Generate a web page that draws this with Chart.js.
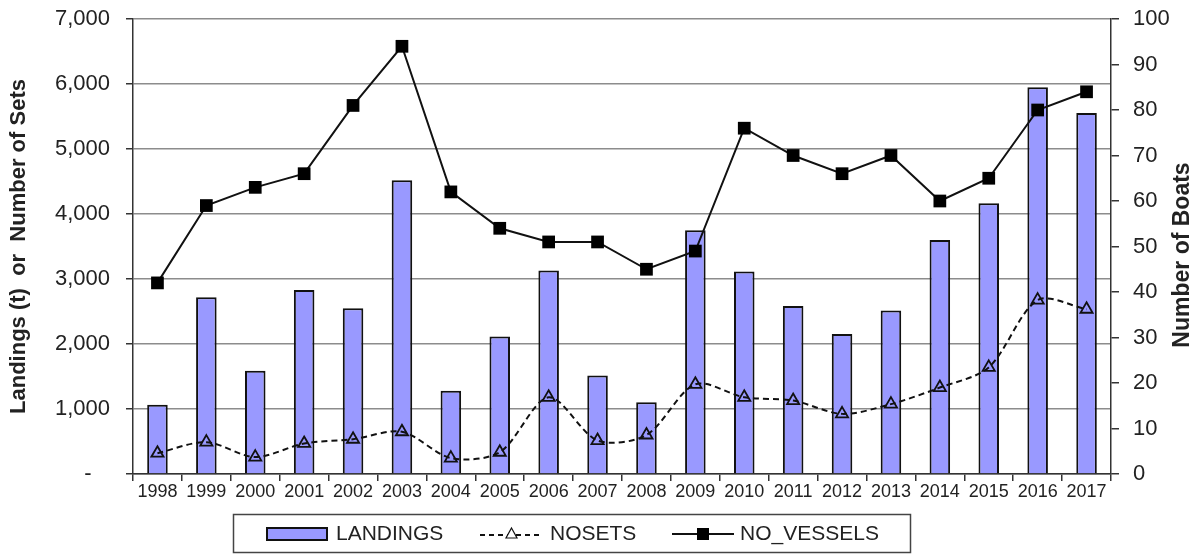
<!DOCTYPE html>
<html>
<head>
<meta charset="utf-8">
<script src="https://cdn.jsdelivr.net/npm/chart.js@4"></script>
<style>
  html, body { margin: 0; padding: 0; background: #fff; }
</style>
</head>
<body>
<canvas id="chart" width="1202" height="554"></canvas>
<script>
// data
var years = ['1998','1999','2000','2001','2002','2003','2004','2005','2006','2007',
             '2008','2009','2010','2011','2012','2013','2014','2015','2016','2017'];
var landings = [1065, 2720, 1590, 2830, 2550, 4520, 1280, 2115, 3130, 1515,
                1105, 3750, 3115, 2585, 2155, 2515, 3600, 4165, 5950, 5555];
var nosets = [320, 490, 260, 470, 535, 650, 245, 335, 1180, 515,
              600, 1380, 1180, 1130, 925, 1075, 1330, 1640, 2675, 2535];
var noVessels = [42, 59, 63, 66, 81, 94, 62, 54, 51, 51,
                 45, 49, 76, 70, 66, 70, 60, 65, 80, 84];

var FONT = '"Liberation Sans", Arial, sans-serif';
var TXT = '#222';
var AXIS = '#333';

// custom legend box and right-hand title (Excel style)
var extras = {
  id: 'extras',
  afterDraw: function(chart) {
    var ctx = chart.ctx;
    var ds = chart.data.datasets;
    ctx.save();

    // right axis title, reading bottom to top
    ctx.fillStyle = TXT;
    ctx.font = 'bold 23px ' + FONT;
    ctx.textAlign = 'center';
    ctx.textBaseline = 'middle';
    ctx.translate(1183, 255);
    ctx.rotate(-Math.PI / 2);
    ctx.fillText('Number of Boats', 0, 0);
    ctx.setTransform(1, 0, 0, 1, 0, 0);

    // legend frame
    ctx.strokeStyle = '#444';
    ctx.lineWidth = 1.5;
    ctx.strokeRect(233.5, 514.5, 677, 38);

    var cy = 534;
    ctx.font = '21px ' + FONT;
    ctx.textAlign = 'left';
    ctx.fillStyle = TXT;

    // LANDINGS
    ctx.fillStyle = ds[0].backgroundColor;
    ctx.fillRect(267, cy - 6, 60, 12);
    ctx.strokeStyle = '#111';
    ctx.lineWidth = 2;
    ctx.strokeRect(267, cy - 6, 60, 12);
    ctx.fillStyle = TXT;
    ctx.fillText(ds[0].label, 336, cy);

    // NOSETS
    ctx.strokeStyle = '#111';
    ctx.lineWidth = 2;
    ctx.setLineDash([5, 4]);
    ctx.beginPath();
    ctx.moveTo(480, cy + 1);
    ctx.lineTo(543, cy + 1);
    ctx.stroke();
    ctx.setLineDash([]);
    ctx.fillStyle = '#fff';
    ctx.lineWidth = 1.2;
    ctx.beginPath();
    ctx.moveTo(511.5, cy - 6);
    ctx.lineTo(517, cy + 4);
    ctx.lineTo(506, cy + 4);
    ctx.closePath();
    ctx.fill();
    ctx.stroke();
    ctx.fillStyle = TXT;
    ctx.fillText(ds[1].label, 550, cy);

    // NO_VESSELS
    ctx.strokeStyle = '#111';
    ctx.lineWidth = 2;
    ctx.beginPath();
    ctx.moveTo(672, cy);
    ctx.lineTo(734, cy);
    ctx.stroke();
    ctx.fillStyle = '#000';
    ctx.fillRect(697, cy - 6, 12, 12);
    ctx.fillStyle = TXT;
    ctx.fillText(ds[2].label, 740, cy);

    ctx.restore();
  }
};

function fixY(width) {
  return function(s) {
    s.width = width;
    s.paddingTop = 0;
    s.paddingBottom = 0;
  };
}

new Chart(document.getElementById('chart'), {
  type: 'bar',
  data: {
    labels: years,
    datasets: [
      {
        label: 'LANDINGS',
        data: landings,
        yAxisID: 'y',
        backgroundColor: '#9999ff',
        borderColor: '#111',
        borderWidth: 2,
        barPercentage: 0.42,
        categoryPercentage: 1,
        order: 3
      },
      {
        type: 'line',
        label: 'NOSETS',
        data: nosets,
        yAxisID: 'y',
        borderColor: '#111',
        borderWidth: 2,
        borderDash: [6, 4],
        tension: 0.3,
        pointStyle: 'triangle',
        pointRadius: 7,
        pointBorderWidth: 1.8,
        pointBackgroundColor: 'rgba(0,0,0,0)',
        pointBorderColor: '#111',
        order: 2
      },
      {
        type: 'line',
        label: 'NO_VESSELS',
        data: noVessels,
        yAxisID: 'y1',
        borderColor: '#111',
        borderWidth: 2,
        tension: 0,
        pointStyle: 'rect',
        pointRadius: 9,
        pointBorderWidth: 0,
        pointBackgroundColor: '#000',
        order: 1
      }
    ]
  },
  options: {
    responsive: false,
    animation: false,
    layout: { padding: { top: 19, left: 0, right: 0, bottom: 0 } },
    plugins: {
      legend: { display: false },
      tooltip: { enabled: false }
    },
    scales: {
      x: {
        offset: true,
        grid: { offset: true, drawOnChartArea: false, tickLength: 7, color: AXIS, lineWidth: 1.5 },
        border: { color: AXIS, width: 1.5 },
        ticks: { color: TXT, font: { family: FONT, size: 18 }, padding: 0, maxRotation: 0, autoSkip: false },
        afterFit: function(s) { s.height = 80; s.paddingLeft = 0; s.paddingRight = 0; }
      },
      y: {
        position: 'left',
        min: 0,
        max: 7000,
        ticks: {
          stepSize: 1000,
          color: TXT,
          font: { family: FONT, size: 22 },
          padding: 16,
          callback: function(v) { return v === 0 ? '-   ' : v.toLocaleString('en-US'); }
        },
        grid: { color: '#8c8c8c', lineWidth: 1.5, tickColor: AXIS, tickLength: 7 },
        border: { color: AXIS, width: 1.5 },
        title: {
          display: true,
          text: 'Landings (t)  or  Number of Sets',
          color: TXT,
          font: { family: FONT, size: 22, weight: 'bold' },
          padding: { top: 6, bottom: 0 }
        },
        afterFit: fixY(133)
      },
      y1: {
        position: 'right',
        min: 0,
        max: 100,
        ticks: {
          stepSize: 10,
          color: TXT,
          font: { family: FONT, size: 22 },
          padding: 14
        },
        grid: { drawOnChartArea: false, color: AXIS, lineWidth: 1.5, tickLength: 8 },
        border: { color: AXIS, width: 1.5 },
        afterFit: fixY(91)
      }
    }
  },
  plugins: [extras]
});
</script>
</body>
</html>
